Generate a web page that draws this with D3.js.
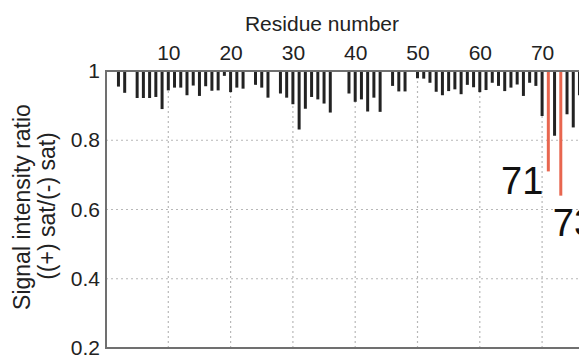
<!DOCTYPE html>
<html>
<head>
<meta charset="utf-8">
<script src="https://cdn.jsdelivr.net/npm/d3@7"></script>
<style>
  html, body { margin: 0; padding: 0; background: #fff; }
  svg { display: block; }
  text { font-family: "Liberation Sans", Arial, sans-serif; }
</style>
</head>
<body>
<svg id="chart" width="579" height="360"></svg>
<script>
// ---- data ----
const residues = d3.range(1, 77);
const ratio = [
  null, 0.955, 0.937, null, 0.922, 0.922, 0.922, 0.925, 0.890, 0.944,
  0.952, 0.952, 0.930, 0.958, 0.928, 0.956, 0.943, 0.944, 0.986, 0.939,
  0.952, 0.949, null, 0.960, 0.952, 0.923, null, 0.935, 0.923, 0.904,
  0.831, 0.891, 0.925, 0.918, 0.906, 0.880, null, null, 0.935, 0.911,
  0.918, 0.883, 0.923, 0.882, null, 0.957, 0.941, 0.941, null, 0.979,
  0.978, 0.966, 0.940, 0.930, 0.942, 0.947, 0.933, 0.960, 0.953, 0.939,
  0.945, 0.966, 0.957, 0.942, 0.952, 0.961, 0.928, 0.966, 0.957, 0.870,
  0.710, 0.813, 0.640, 0.875, 0.837, 0.930
];
const highlighted = [71, 73];
const xTicks = [10, 20, 30, 40, 50, 60, 70];
const yTicks = [0.2, 0.4, 0.6, 0.8, 1];
const xTitle = "Residue number";
const yTitle1 = "Signal intensity ratio";
const yTitle2 = "((+) sat/(-) sat)";

// ---- layout ----
const svg = d3.select("#chart");
const mLeft = 106, mTop = 71, mBottom = 348, step = 6.23, xMax = 77;
const x = d3.scaleLinear().domain([0, xMax]).range([mLeft, mLeft + step * xMax]);
const y = d3.scaleLinear().domain([0.2, 1]).range([mBottom, mTop]);
const mRight = x(xMax);

// grid
const grid = svg.append("g").attr("stroke", "#b8b8b8").attr("stroke-width", 1.2)
  .attr("stroke-dasharray", "2,3");
grid.selectAll(".gx").data(xTicks).join("line")
  .attr("x1", d => x(d)).attr("x2", d => x(d))
  .attr("y1", mTop).attr("y2", mBottom);
grid.selectAll(".gy").data(yTicks.filter(d => d > 0.2 && d < 1)).join("line")
  .attr("x1", mLeft).attr("x2", mRight)
  .attr("y1", d => y(d)).attr("y2", d => y(d));

// bars
const data = residues.map((r, i) => ({ r, v: ratio[i] })).filter(d => d.v !== null);
svg.append("g").selectAll("line").data(data).join("line")
  .attr("x1", d => x(d.r)).attr("x2", d => x(d.r))
  .attr("y1", y(1)).attr("y2", d => y(d.v))
  .attr("stroke", d => highlighted.includes(d.r) ? "#e8664f" : "#222")
  .attr("stroke-width", 3);

// frame
svg.append("path")
  .attr("d", `M${mRight},${mTop}H${mLeft}V${mBottom}H${mRight}`)
  .attr("fill", "none").attr("stroke", "#707070").attr("stroke-width", 2);

// axes
const ax = svg.append("g").attr("transform", `translate(0,${mTop})`)
  .call(d3.axisTop(x).tickValues(xTicks).tickSize(0).tickPadding(11));
ax.select(".domain").remove();
ax.selectAll("text").attr("font-size", 21).attr("fill", "#222")
  .attr("font-family", "Liberation Sans, Arial, sans-serif");

const ay = svg.append("g").attr("transform", `translate(${mLeft},0)`)
  .call(d3.axisLeft(y).tickValues(yTicks).tickSize(0).tickPadding(6)
    .tickFormat(d => d === 1 ? "1" : d3.format(".1f")(d)));
ay.select(".domain").remove();
ay.selectAll("text").attr("font-size", 21).attr("fill", "#222")
  .attr("font-family", "Liberation Sans, Arial, sans-serif");

// titles
svg.append("text").attr("x", 322).attr("y", 31).attr("text-anchor", "middle")
  .attr("font-size", 21).attr("fill", "#222").text(xTitle);
svg.append("text").attr("transform", "translate(30,207) rotate(-90)")
  .attr("text-anchor", "middle").attr("font-size", 23).attr("fill", "#222").text(yTitle1);
svg.append("text").attr("transform", "translate(55,206) rotate(-90)")
  .attr("text-anchor", "middle").attr("font-size", 23).attr("fill", "#222").text(yTitle2);

// residue labels
const lab = svg.append("g").attr("font-size", 38).attr("fill", "#111");
lab.append("text").attr("x", x(71) - 5).attr("y", y(ratio[70]) + 23)
  .attr("text-anchor", "end").text("71");
lab.append("text").attr("x", x(73) - 8).attr("y", y(ratio[72]) + 40)
  .attr("text-anchor", "start").text("73");
</script>
</body>
</html>
